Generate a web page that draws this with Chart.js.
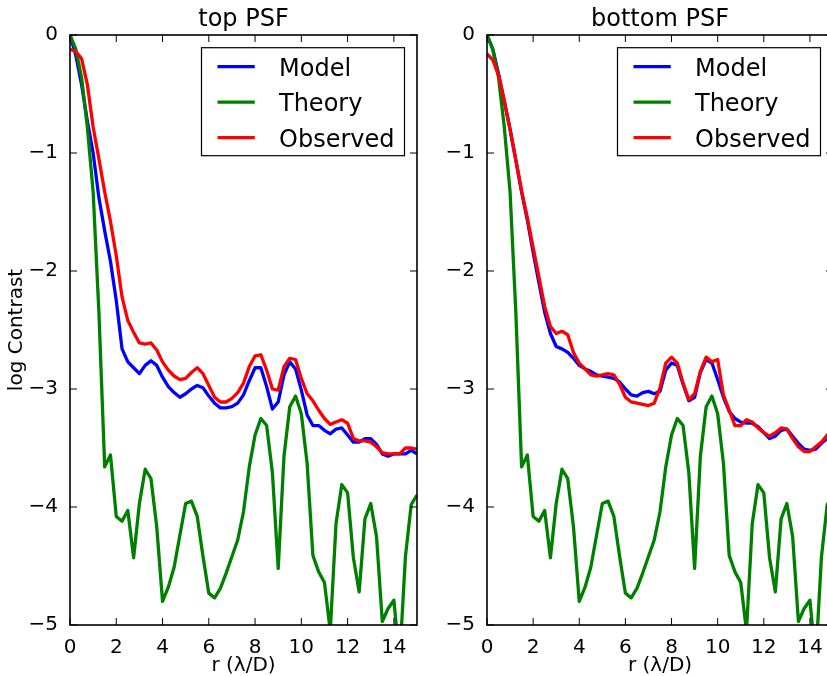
<!DOCTYPE html>
<html>
<head>
<meta charset="utf-8">
<title>PSF contrast</title>
<script src="https://cdn.jsdelivr.net/npm/chart.js@4/dist/chart.umd.min.js"></script>
<style>
  html, body { margin: 0; padding: 0; background: #fff; width: 827px; height: 676px; overflow: hidden; }
  .panel { position: absolute; top: 0; }
  #topPanel { left: 0; }
  #bottomPanel { left: 420px; }
</style>
</head>
<body>
<div class="panel" id="topPanel"><canvas id="topChart" width="440" height="676"></canvas></div>
<div class="panel" id="bottomPanel"><canvas id="bottomChart" width="440" height="676"></canvas></div>
<script>
// radius in lambda/D
var r = [0, 0.25, 0.5, 0.75, 1, 1.25, 1.5, 1.75, 2, 2.25, 2.5, 2.75, 3, 3.25, 3.5, 3.75,
         4, 4.25, 4.5, 4.75, 5, 5.25, 5.5, 5.75, 6, 6.25, 6.5, 6.75, 7, 7.25, 7.5, 7.75,
         8, 8.25, 8.5, 8.75, 9, 9.25, 9.5, 9.75, 10, 10.25, 10.5, 10.75, 11, 11.25, 11.5, 11.75,
         12, 12.25, 12.5, 12.75, 13, 13.25, 13.5, 13.75, 14, 14.25, 14.5, 14.75, 15];

// log contrast, ideal PSF (same for both panels)
var theory = [0, -0.12, -0.36, -0.78, -1.33, -2.35, -3.66, -3.56, -4.08, -4.12, -4.03, -4.43, -3.97, -3.68, -3.76, -4.17,
              -4.80, -4.68, -4.51, -4.24, -3.97, -3.95, -4.08, -4.42, -4.73, -4.77, -4.69, -4.56, -4.42, -4.28, -4.04, -3.66,
              -3.39, -3.25, -3.31, -3.71, -4.52, -3.57, -3.15, -3.06, -3.21, -3.63, -4.41, -4.55, -4.64, -5.05, -4.14, -3.81,
              -3.88, -4.43, -4.72, -4.10, -3.97, -4.25, -4.97, -4.86, -4.79, -5.30, -4.42, -3.98, -3.90];

// top PSF
var topModel = [0, -0.17, -0.42, -0.73, -1.00, -1.38, -1.66, -1.92, -2.25, -2.66, -2.77, -2.82, -2.87, -2.80, -2.76, -2.80,
                -2.90, -2.98, -3.03, -3.07, -3.04, -3.00, -2.97, -2.99, -3.06, -3.12, -3.16, -3.16, -3.15, -3.12, -3.05, -2.93,
                -2.82, -2.82, -2.98, -3.17, -3.11, -2.88, -2.77, -2.83, -3.01, -3.22, -3.31, -3.31, -3.35, -3.38, -3.34, -3.33,
                -3.39, -3.45, -3.45, -3.42, -3.42, -3.47, -3.55, -3.57, -3.55, -3.55, -3.55, -3.52, -3.55];
var topObserved = [-0.12, -0.14, -0.20, -0.42, -0.78, -1.05, -1.33, -1.58, -1.87, -2.22, -2.42, -2.52, -2.61, -2.62, -2.61, -2.67,
                   -2.77, -2.84, -2.89, -2.92, -2.91, -2.86, -2.82, -2.87, -2.97, -3.07, -3.11, -3.11, -3.08, -3.03, -2.95, -2.81,
                   -2.72, -2.71, -2.84, -3.00, -3.01, -2.81, -2.74, -2.75, -2.91, -3.04, -3.10, -3.18, -3.25, -3.30, -3.28, -3.26,
                   -3.29, -3.42, -3.44, -3.44, -3.45, -3.49, -3.54, -3.55, -3.55, -3.55, -3.50, -3.50, -3.51];

// bottom PSF
var bottomModel = [0, -0.12, -0.33, -0.56, -0.80, -1.06, -1.33, -1.57, -1.84, -2.10, -2.35, -2.53, -2.64, -2.66, -2.69, -2.74,
                   -2.80, -2.83, -2.85, -2.88, -2.89, -2.90, -2.91, -2.94, -3.00, -3.05, -3.06, -3.03, -3.02, -3.04, -3.02, -2.84,
                   -2.78, -2.80, -2.96, -3.10, -3.07, -2.86, -2.75, -2.78, -2.92, -3.07, -3.19, -3.25, -3.28, -3.29, -3.29, -3.32,
                   -3.37, -3.42, -3.40, -3.35, -3.34, -3.40, -3.46, -3.51, -3.52, -3.51, -3.46, -3.42, -3.38];
var bottomObserved = [-0.16, -0.21, -0.34, -0.56, -0.80, -1.06, -1.32, -1.55, -1.80, -2.05, -2.30, -2.47, -2.53, -2.51, -2.54, -2.69,
                      -2.78, -2.83, -2.88, -2.89, -2.88, -2.87, -2.88, -2.96, -3.07, -3.11, -3.12, -3.13, -3.14, -3.12, -2.99, -2.78,
                      -2.73, -2.78, -2.95, -3.09, -3.04, -2.85, -2.73, -2.77, -2.75, -3.05, -3.18, -3.31, -3.31, -3.26, -3.28, -3.33,
                      -3.37, -3.40, -3.37, -3.33, -3.34, -3.42, -3.49, -3.53, -3.53, -3.49, -3.45, -3.39, -3.33];

var FONT = '"DejaVu Sans", "Liberation Sans", sans-serif';
Chart.defaults.font.family = FONT;
Chart.defaults.color = '#000';

function toPoints(ys) {
    return r.map(function (x, i) { return {x: x, y: ys[i]}; });
}

// box with inward ticks on all four sides
var axesFrame = {
    id: 'axesFrame',
    afterDatasetsDraw: function (chart) {
        var a = chart.chartArea, ctx = chart.ctx;
        var xs = chart.scales.x, ys = chart.scales.y;
        var len = 7;
        ctx.save();
        ctx.strokeStyle = '#000';
        ctx.lineWidth = 1;
        ctx.beginPath();
        xs.ticks.forEach(function (t) {
            var px = xs.getPixelForValue(t.value);
            ctx.moveTo(px, a.bottom); ctx.lineTo(px, a.bottom - len);
            ctx.moveTo(px, a.top); ctx.lineTo(px, a.top + len);
        });
        ys.ticks.forEach(function (t) {
            var py = ys.getPixelForValue(t.value);
            ctx.moveTo(a.left, py); ctx.lineTo(a.left + len, py);
            ctx.moveTo(a.right, py); ctx.lineTo(a.right - len, py);
        });
        ctx.stroke();
        ctx.lineWidth = 1.6;
        ctx.strokeRect(a.left, a.top, a.right - a.left, a.bottom - a.top);
        ctx.restore();
    }
};

// framed legend in the upper right corner
var boxLegend = {
    id: 'boxLegend',
    afterDraw: function (chart) {
        var a = chart.chartArea, ctx = chart.ctx;
        var w = 203, h = 108;
        var left = a.right - 12.5 - w, top = a.top + 12.7;
        ctx.save();
        ctx.fillStyle = '#fff';
        ctx.fillRect(left, top, w, h);
        ctx.strokeStyle = '#000';
        ctx.lineWidth = 1.2;
        ctx.strokeRect(left, top, w, h);
        ctx.font = '24px ' + FONT;
        ctx.textBaseline = 'alphabetic';
        chart.data.datasets.forEach(function (ds, i) {
            var y = top + 19 + i * 35.5;
            ctx.strokeStyle = ds.borderColor;
            ctx.lineWidth = 3.3;
            ctx.beginPath();
            ctx.moveTo(left + 16, y);
            ctx.lineTo(left + 53.3, y);
            ctx.stroke();
            ctx.fillStyle = '#000';
            ctx.fillText(ds.label, left + 77.5, y + 9);
        });
        ctx.restore();
    }
};

function makePanel(id, title, model, observed, yWidth, padRight, showYTitle) {
    return new Chart(document.getElementById(id), {
        type: 'line',
        data: {
            datasets: [
                {label: 'Model', data: toPoints(model), borderColor: '#0000ff', order: 2},
                {label: 'Theory', data: toPoints(theory), borderColor: '#008000', order: 1},
                {label: 'Observed', data: toPoints(observed), borderColor: '#ff0000', order: 0}
            ]
        },
        options: {
            responsive: false,
            animation: false,
            devicePixelRatio: 1,
            layout: {padding: {left: 0, top: 0, right: padRight, bottom: 0}},
            elements: {
                line: {borderWidth: 3.3, tension: 0, fill: false, borderJoinStyle: 'round'},
                point: {radius: 0, hoverRadius: 0}
            },
            plugins: {
                legend: {display: false},
                tooltip: {enabled: false},
                title: {
                    display: true, text: title, fullSize: false, color: '#000',
                    font: {size: 24, weight: 'normal'},
                    padding: {top: 5, bottom: 1.2}
                }
            },
            scales: {
                x: {
                    type: 'linear', min: 0, max: 15,
                    grid: {display: false},
                    border: {display: false},
                    ticks: {stepSize: 2, includeBounds: false, autoSkip: false, maxRotation: 0,
                            padding: 3, color: '#000', font: {size: 20}},
                    title: {display: true, text: 'r (\u03bb/D)', color: '#000', font: {size: 20},
                            padding: {top: 0, bottom: -2}},
                    afterFit: function (s) { s.height = 51; }
                },
                y: {
                    type: 'linear', min: -5, max: 0,
                    grid: {display: false},
                    border: {display: false},
                    ticks: {
                        stepSize: 1, padding: 4, color: '#000', font: {size: 20},
                        callback: function (v) { return v === 0 ? '0' : '\u2212' + Math.abs(v); }
                    },
                    title: {display: showYTitle, text: 'log Contrast', color: '#000', font: {size: 20},
                            padding: {top: 4.5, bottom: 0}},
                    afterFit: function (s) { s.width = yWidth; }
                }
            }
        },
        plugins: [axesFrame, boxLegend]
    });
}

makePanel('topChart', 'top PSF', topModel, topObserved, 70, 23, true);
makePanel('bottomChart', 'bottom PSF', bottomModel, bottomObserved, 67, 27, false);
</script>
</body>
</html>
